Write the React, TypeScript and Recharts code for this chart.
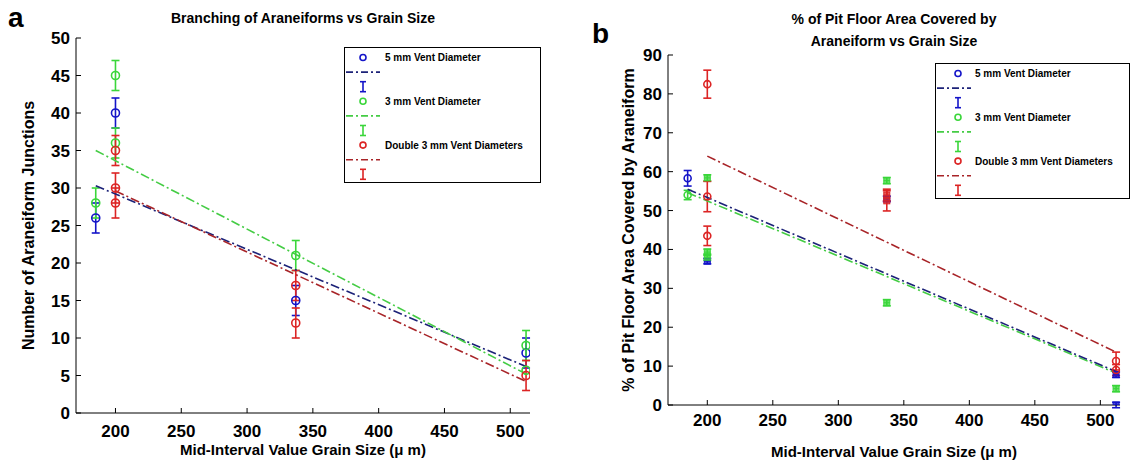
import React from 'react'
import { ScatterChart, Scatter, XAxis, YAxis, ErrorBar } from 'recharts'

const grainTicks = [200, 250, 300, 350, 400, 450, 500]
const junctionTicks = [0, 5, 10, 15, 20, 25, 30, 35, 40, 45, 50]
const areaTicks = [0, 10, 20, 30, 40, 50, 60, 70, 80, 90]

// panel a: araneiform junctions
const junc5mmX = [185, 200, 337, 512]
const junc5mmY = [26, 40, 15, 8]
const junc5mmErr = [2, 2, 2, 2]
const junc3mmX = [185, 200, 200, 337, 512, 512]
const junc3mmY = [28, 45, 36, 21, 9, 5.7]
const junc3mmErr = [2, 2, 2, 2, 2, 0]
const juncDoubleX = [200, 200, 200, 337, 337, 512]
const juncDoubleY = [35, 30, 28, 17, 12, 5]
const juncDoubleErr = [2, 2, 2, 2, 2, 2]

const juncFit5mmX = [185, 512]
const juncFit5mmY = [30.3, 6.2]
const juncFit3mmX = [185, 512]
const juncFit3mmY = [35, 5.2]
const juncFitDoubleX = [200, 512]
const juncFitDoubleY = [29.6, 4.2]

// panel b: % pit floor area covered
const area5mmCircleX = [185]
const area5mmCircleY = [58.3]
const area5mmCircleErr = [2]
const area5mmSquareX = [200, 337, 512, 512]
const area5mmSquareY = [37, 53, 0, 7.8]
const area5mmSquareErr = [0.7, 0.7, 0.7, 0.7]
const area3mmCircleX = [185]
const area3mmCircleY = [54]
const area3mmCircleErr = [1.2]
const area3mmSquareX = [200, 200, 200, 337, 337, 512]
const area3mmSquareY = [58.4, 39.3, 38, 57.7, 26.3, 4.2]
const area3mmSquareErr = [0.8, 0.8, 0.8, 0.8, 0.8, 0.8]
const areaDoubleCircleX = [200, 200, 200, 512, 512]
const areaDoubleCircleY = [82.5, 53.6, 43.5, 11.3, 9]
const areaDoubleCircleErr = [3.6, 3.9, 2.5, 2.3, 1.4]
const areaDoubleSquareX = [337, 337]
const areaDoubleSquareY = [54, 52.5]
const areaDoubleSquareErr = [1.5, 2.6]

const areaFit5mmX = [185, 512]
const areaFit5mmY = [55.5, 8.6]
const areaFit3mmX = [185, 512]
const areaFit3mmY = [54.6, 8.2]
const areaFitDoubleX = [200, 512]
const areaFitDoubleY = [64, 13.6]

const FONT = '"Liberation Sans", Arial, Helvetica, sans-serif'
const BLUE = '#1414c8'
const GREEN = '#3ad63a'
const RED = '#dc2424'
const BLUE_LINE = '#1c2278'
const GREEN_LINE = '#44cc44'
const RED_LINE = '#a82428'
const DASH = '9 3 2 3'

type Pt = { x: number; y: number; err: number }
const pts = (xs: number[], ys: number[], es?: number[]): Pt[] =>
  xs.map((x, i) => ({ x, y: ys[i], err: es ? es[i] : 0 }))

const ring = (color: string, r: number) => (p: any) =>
  <circle cx={p.cx} cy={p.cy} r={r} fill="none" stroke={color} strokeWidth={1.6} />
const square = (color: string, s: number) => (p: any) => (
  <g>
    <rect x={p.cx - s / 2} y={p.cy - s / 2} width={s} height={s} fill={color} fillOpacity={0.75} stroke={color} strokeWidth={1} />
    <line x1={p.cx - s / 2} x2={p.cx + s / 2} y1={p.cy} y2={p.cy} stroke={color} strokeWidth={1} />
  </g>
)
const nothing = () => <g />

const tickStyle = { fill: '#000', fontSize: 17, fontWeight: 700, fontFamily: FONT }
const labelStyle = { fill: '#000', fontSize: 15, fontWeight: 700, fontFamily: FONT, textAnchor: 'middle' as const }
const yLabelStyle = { ...labelStyle, fontSize: 16 }

function fitLine(key: string, xs: number[], ys: number[], color: string) {
  return (
    <Scatter
      key={key}
      data={pts(xs, ys)}
      shape={nothing}
      line={{ stroke: color, strokeWidth: 1.6, strokeDasharray: DASH }}
      isAnimationActive={false}
    />
  )
}

function markers(key: string, data: Pt[], color: string, shape: any, cap: number) {
  return (
    <Scatter key={key} data={data} shape={shape} isAnimationActive={false}>
      <ErrorBar dataKey="err" direction="y" width={cap} stroke={color} strokeWidth={1.6} isAnimationActive={false} />
    </Scatter>
  )
}

function LegendBox({ left, top, width, markerX, textX }: { left: number; top: number; width: number; markerX: number; textX: number }) {
  const entries = [
    { label: '5 mm Vent Diameter', c: BLUE, l: BLUE_LINE },
    { label: '3 mm Vent Diameter', c: GREEN, l: GREEN_LINE },
    { label: 'Double 3 mm Vent Diameters', c: RED, l: RED_LINE },
  ]
  const row = 14.6
  return (
    <svg style={{ position: 'absolute', left, top }} width={width} height={137}>
      <rect x={0.5} y={0.5} width={width - 1} height={135} fill="#fff" stroke="#000" strokeWidth={1} />
      {entries.map((e, i) => {
        const y0 = 10.5 + i * 3 * row
        return (
          <g key={e.label}>
            <circle cx={markerX} cy={y0} r={3} fill="none" stroke={e.c} strokeWidth={1.6} />
            <text x={textX} y={y0 + 3.5} fontFamily={FONT} fontSize={10} fontWeight={700} fill="#000">{e.label}</text>
            <line x1={2} x2={36} y1={y0 + row} y2={y0 + row} stroke={e.l} strokeWidth={1.6} strokeDasharray="7 3 2 3" />
            <line x1={markerX} x2={markerX} y1={y0 + 2 * row - 5} y2={y0 + 2 * row + 5} stroke={e.c} strokeWidth={1.6} />
            <line x1={markerX - 3} x2={markerX + 3} y1={y0 + 2 * row - 5} y2={y0 + 2 * row - 5} stroke={e.c} strokeWidth={1.6} />
            <line x1={markerX - 3} x2={markerX + 3} y1={y0 + 2 * row + 5} y2={y0 + 2 * row + 5} stroke={e.c} strokeWidth={1.6} />
          </g>
        )
      })}
    </svg>
  )
}

const abs = (left: number, top: number, extra: React.CSSProperties = {}): React.CSSProperties => ({
  position: 'absolute', left, top, fontFamily: FONT, fontWeight: 700, color: '#000', whiteSpace: 'nowrap', ...extra,
})

export default function App() {
  return (
    <div style={{ position: 'fixed', left: 0, top: 0, width: 1132, height: 465, background: '#fff', overflow: 'hidden' }}>
      {/* panel a */}
      <div style={abs(8, 2, { fontSize: 28 })}>a</div>
      <div style={abs(76, 10, { fontSize: 14, width: 454, textAlign: 'center' })}>Branching of Araneiforms vs Grain Size</div>
      <div style={{ position: 'absolute', left: 0, top: 0 }}>
        <ScatterChart width={560} height={465} margin={{ top: 38, right: 30, bottom: 7, left: 22 }}>
          <XAxis
            type="number" dataKey="x" domain={[170, 515]} ticks={grainTicks} allowDataOverflow
            stroke="#000" tickSize={-5} tickMargin={17} tick={tickStyle} height={45}
            label={{ value: 'Mid-Interval Value Grain Size (\u03bc m)', position: 'insideBottom', offset: 3, style: labelStyle }}
          />
          <YAxis
            type="number" dataKey="y" domain={[0, 50]} ticks={junctionTicks} allowDataOverflow
            stroke="#000" tickSize={-5} tickMargin={11} tick={tickStyle} width={54}
            label={{ value: 'Number of Araneiform Junctions', angle: -90, position: 'insideLeft', offset: 6, style: yLabelStyle }}
          />
          {fitLine('f5', juncFit5mmX, juncFit5mmY, BLUE_LINE)}
          {fitLine('f3', juncFit3mmX, juncFit3mmY, GREEN_LINE)}
          {fitLine('fd', juncFitDoubleX, juncFitDoubleY, RED_LINE)}
          {markers('m5', pts(junc5mmX, junc5mmY, junc5mmErr), BLUE, ring(BLUE, 4), 4)}
          {markers('m3', pts(junc3mmX, junc3mmY, junc3mmErr), GREEN, ring(GREEN, 4), 4)}
          {markers('md', pts(juncDoubleX, juncDoubleY, juncDoubleErr), RED, ring(RED, 4), 4)}
        </ScatterChart>
      </div>
      <LegendBox left={344} top={47} width={197} markerX={19} textX={41} />

      {/* panel b */}
      <div style={abs(592, 18, { fontSize: 28 })}>b</div>
      <div style={abs(668, 8, { fontSize: 14, width: 452, textAlign: 'center', lineHeight: '22px' })}>
        % of Pit Floor Area Covered by<br />Araneiform vs Grain Size
      </div>
      <div style={{ position: 'absolute', left: 570, top: 0 }}>
        <ScatterChart width={562} height={465} margin={{ top: 55, right: 12, bottom: 10, left: 48 }}>
          <XAxis
            type="number" dataKey="x" domain={[170, 515]} ticks={grainTicks} allowDataOverflow
            stroke="#000" tickSize={-5} tickMargin={14} tick={tickStyle} height={50}
            label={{ value: 'Mid-Interval Value Grain Size (\u03bc m)', position: 'insideBottom', offset: -2, style: labelStyle }}
          />
          <YAxis
            type="number" dataKey="y" domain={[0, 90]} ticks={areaTicks} allowDataOverflow
            stroke="#000" tickSize={-5} tickMargin={11} tick={tickStyle} width={50}
            label={{ value: '% of Pit Floor Area Covered by Araneiform', angle: -90, position: 'insideLeft', offset: 10, style: yLabelStyle }}
          />
          {fitLine('g3', areaFit3mmX, areaFit3mmY, GREEN_LINE)}
          {fitLine('g5', areaFit5mmX, areaFit5mmY, BLUE_LINE)}
          {fitLine('gd', areaFitDoubleX, areaFitDoubleY, RED_LINE)}
          {markers('a5c', pts(area5mmCircleX, area5mmCircleY, area5mmCircleErr), BLUE, ring(BLUE, 3.5), 4)}
          {markers('a5s', pts(area5mmSquareX, area5mmSquareY, area5mmSquareErr), BLUE, square(BLUE, 6), 4)}
          {markers('a3c', pts(area3mmCircleX, area3mmCircleY, area3mmCircleErr), GREEN, ring(GREEN, 3.5), 4)}
          {markers('a3s', pts(area3mmSquareX, area3mmSquareY, area3mmSquareErr), GREEN, square(GREEN, 6), 4)}
          {markers('adc', pts(areaDoubleCircleX, areaDoubleCircleY, areaDoubleCircleErr), RED, ring(RED, 3.5), 4)}
          {markers('ads', pts(areaDoubleSquareX, areaDoubleSquareY, areaDoubleSquareErr), RED, square(RED, 6), 4)}
        </ScatterChart>
      </div>
      <LegendBox left={935} top={63} width={195} markerX={23} textX={40} />
    </div>
  )
}
